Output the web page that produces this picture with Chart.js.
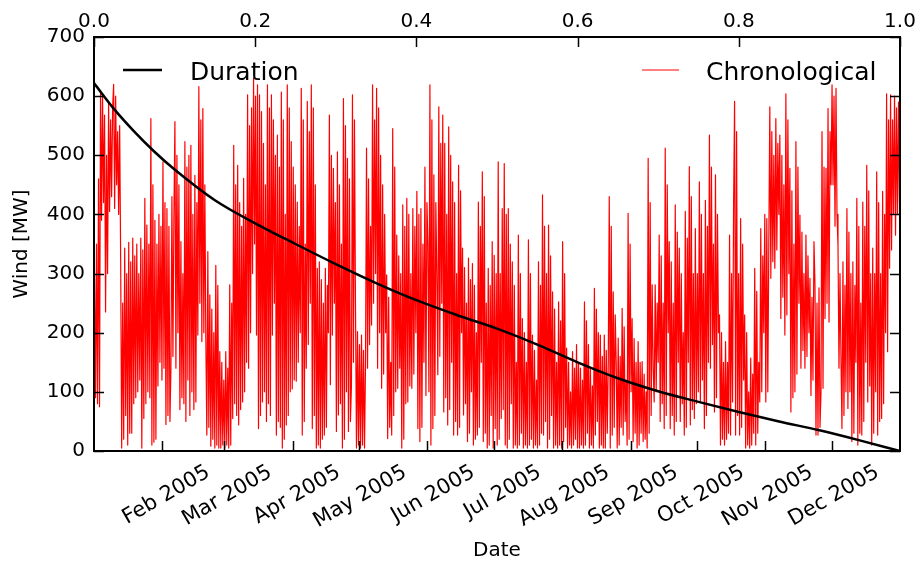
<!DOCTYPE html>
<html>
<head>
<meta charset="utf-8">
<script src="https://cdn.jsdelivr.net/npm/chart.js@4.4.1/dist/chart.umd.min.js"></script>
<style>
    html, body { margin: 0; padding: 0; background: #fff; }
    canvas { display: block; }
</style>
</head>
<body>
<canvas id="wind" width="922" height="563"></canvas>
<script>
// axis labels / ticks
const monthDays = [31, 28, 31, 30, 31, 30, 31, 31, 30, 31, 30, 31];
const monthLabels = ["Feb 2005", "Mar 2005", "Apr 2005", "May 2005", "Jun 2005", "Jul 2005",
    "Aug 2005", "Sep 2005", "Oct 2005", "Nov 2005", "Dec 2005"];

// duration curve (fraction of time vs MW)
const durationFrac = [0, 0.025, 0.05, 0.075, 0.1, 0.15, 0.2, 0.25, 0.3, 0.35, 0.4, 0.45,
    0.5, 0.55, 0.6, 0.65, 0.7, 0.75, 0.8, 0.85, 0.9, 0.95, 1.0];
const durationMW = [622, 578, 540, 506, 476, 424, 385, 350, 316, 284, 255, 230,
    207, 180, 150, 123, 101, 83, 66, 50, 35, 18, 0];

// chronological wind output per month (MW), samples spread evenly over each month
const windJan = [300, 90, 350, 80, 460, 75, 610, 390, 600, 420, 568, 235, 500, 300, 590, 405, 560, 430,
    580, 620, 410, 600, 450, 540, 400, 550, 320, 5, 250, 20, 343, 60, 300, 10, 353, 30, 320, 30, 360, 80,
    330, 90, 350, 100, 300, 120, 360, 5, 340, 55, 427, 80, 382, 100, 350, 90, 562, 10, 450, 15, 390, 20,
    350, 110, 400, 150, 380, 120];
const windFeb = [489, 140, 420, 45, 410, 60, 380, 50, 140, 430, 160, 400, 557, 140, 500, 200, 450, 70,
    354, 90, 300, 80, 523, 50, 480, 120, 500, 60, 517, 100, 400, 70, 466, 83, 420, 196, 616, 250, 560,
    185, 579, 200, 450, 190, 27, 337, 40, 264, 8, 240, 20, 200, 5, 314, 10, 280, 5, 168, 5, 150, 10, 120];
const windMar = [5, 168, 10, 140, 5, 281, 10, 250, 55, 517, 80, 450, 60, 483, 44, 420, 70, 380, 83, 461,
    100, 400, 150, 602, 140, 550, 200, 580, 300, 630, 350, 600, 196, 619, 38, 602, 60, 574, 83, 520, 100,
    450, 50, 619, 80, 580, 60, 602, 196, 560, 250, 500, 27, 534, 50, 480, 40, 607, 5, 560, 20, 400, 44,
    619, 60, 580, 100, 523, 105];
const windApr = [480, 120, 450, 118, 421, 150, 380, 200, 613, 27, 560, 50, 350, 140, 591, 180, 540, 250,
    619, 38, 580, 60, 450, 5, 309, 10, 320, 5, 290, 20, 250, 27, 309, 40, 280, 200, 568, 112, 500, 196,
    478, 250, 420, 33, 506, 61, 450, 80, 350, 5, 596, 20, 550, 100, 495, 33, 460, 50, 112, 602, 150, 560,
    250, 5, 202, 10];
const windMay = [180, 5, 196, 10, 170, 5, 150, 512, 140, 460, 180, 380, 213, 619, 250, 560, 300, 613, 140,
    580, 200, 500, 106, 450, 130, 400, 200, 298, 21, 260, 40, 150, 27, 545, 60, 480, 100, 365, 106, 330,
    140, 300, 5, 416, 20, 380, 80, 427, 83, 400, 110, 300, 106, 410, 130, 380, 200, 439, 38, 400, 16, 410,
    40, 350, 150, 480, 94, 420];
const windJun = [350, 100, 619, 10, 560, 38, 467, 60, 420, 300, 129, 582, 160, 520, 250, 568, 66, 520, 90,
    400, 44, 548, 70, 500, 150, 455, 27, 420, 50, 300, 27, 483, 40, 440, 200, 343, 61, 310, 80, 250, 16,
    326, 30, 290, 100, 317, 10, 280, 20, 200, 27, 421, 40, 380, 150, 472, 16, 430, 30, 250, 5, 309, 10,
    280, 60, 354, 5];
const windJul = [331, 38, 300, 10, 489, 20, 300, 55, 410, 70, 486, 10, 400, 5, 410, 20, 350, 80, 320, 5,
    280, 10, 150, 5, 365, 10, 300, 30, 224, 5, 200, 10, 150, 5, 357, 10, 300, 20, 196, 5, 170, 10, 120, 5,
    320, 10, 280, 30, 433, 27, 380, 50, 300, 5, 382, 20, 330, 60, 269, 5, 240, 10, 150, 5, 252, 10, 220, 5];
const windAug = [354, 16, 300, 40, 174, 5, 150, 10, 100, 5, 168, 10, 140, 20, 180, 5, 150, 5, 140, 10, 120,
    5, 252, 10, 220, 30, 180, 5, 140, 10, 110, 5, 275, 27, 240, 50, 200, 5, 196, 10, 160, 5, 196, 5, 170,
    30, 150, 430, 5, 380, 27, 269, 40, 230, 150, 5, 191, 10, 160, 40, 241, 27, 210, 50, 120, 10, 402, 20, 350];
const windSep = [100, 224, 16, 190, 30, 150, 5, 185, 10, 150, 30, 151, 16, 130, 20, 100, 5, 495, 30, 420,
    60, 281, 140, 83, 281, 100, 250, 150, 365, 50, 330, 80, 250, 38, 512, 60, 450, 200, 354, 38, 320, 60,
    250, 27, 416, 50, 370, 150, 343, 50, 300, 80, 200, 27, 405, 40, 360, 150, 481, 44, 430, 70, 300, 55,
    376, 80];
const windOct = [300, 100, 455, 83, 400, 120, 300, 38, 424, 60, 380, 150, 534, 140, 480, 180, 350, 66, 467,
    90, 400, 200, 230, 10, 200, 20, 150, 10, 185, 20, 150, 30, 365, 27, 300, 83, 416, 591, 27, 540, 60, 300,
    27, 393, 40, 350, 120, 230, 5, 200, 10, 100, 5, 157, 10, 130, 30, 309, 10, 270, 30, 150, 83, 376, 100,
    330, 200, 400];
const windNov = [83, 393, 100, 350, 582, 292, 540, 320, 500, 309, 562, 340, 520, 400, 534, 224, 500, 260,
    450, 196, 604, 230, 560, 300, 478, 66, 440, 90, 350, 100, 523, 130, 480, 250, 399, 140, 370, 170, 300,
    140, 365, 160, 330, 200, 292, 94, 260, 120, 354, 281, 27, 250, 27, 276, 40, 100, 540, 106, 480, 224,
    478, 250, 579, 218, 540, 450];
const windDec = [619, 450, 600, 380, 613, 400, 348, 140, 300, 160, 38, 320, 60, 280, 100, 410, 72, 370,
    100, 300, 16, 320, 30, 280, 150, 427, 10, 380, 30, 250, 27, 421, 50, 380, 150, 483, 83, 440, 110, 300,
    10, 343, 30, 300, 100, 472, 27, 420, 50, 300, 55, 439, 80, 400, 200, 604, 168, 560, 309, 602, 340, 560,
    400, 600, 365, 580, 400, 590, 420];

const windByMonth = [windJan, windFeb, windMar, windApr, windMay, windJun,
    windJul, windAug, windSep, windOct, windNov, windDec];

// hour of year at the start of each month
const monthStarts = [];
let hour = 0;
monthDays.forEach((d) => {
    monthStarts.push(hour);
    hour += d * 24;
});
const yearHours = hour;

const chrono = [];
windByMonth.forEach((vals, m) => {
    const len = monthDays[m] * 24;
    vals.forEach((v, i) => {
        chrono.push({ x: monthStarts[m] + ((i + 0.5) * len) / vals.length, y: v });
    });
});

const duration = durationFrac.map((f, i) => ({ x: f, y: durationMW[i] }));

Chart.defaults.font.family = "'DejaVu Sans', sans-serif";
Chart.defaults.color = "#000";

// matplotlib-ish frame, inward ticks and legend
const frameTicks = {
    id: "frameTicks",
    afterDraw(chart) {
        const { ctx, chartArea: a, scales } = chart;
        const len = 10;
        ctx.save();
        ctx.strokeStyle = "#000";
        ctx.lineWidth = 1.5;
        ctx.beginPath();
        scales.y.ticks.forEach((t) => {
            const py = Math.round(scales.y.getPixelForValue(t.value)) + 0.5;
            ctx.moveTo(a.left, py);
            ctx.lineTo(a.left + len, py);
            ctx.moveTo(a.right, py);
            ctx.lineTo(a.right - len, py);
        });
        scales.x.ticks.forEach((t) => {
            const px = Math.round(scales.x.getPixelForValue(t.value)) + 0.5;
            ctx.moveTo(px, a.bottom);
            ctx.lineTo(px, a.bottom - len);
        });
        scales.x2.ticks.forEach((t) => {
            const px = Math.round(scales.x2.getPixelForValue(t.value)) + 0.5;
            ctx.moveTo(px, a.top);
            ctx.lineTo(px, a.top + len);
        });
        ctx.stroke();
        ctx.lineWidth = 2;
        ctx.strokeRect(a.left, a.top, a.right - a.left, a.bottom - a.top);

        // legend
        const ds = chart.data.datasets;
        ctx.font = "25px 'DejaVu Sans'";
        ctx.fillStyle = "#000";
        ctx.textBaseline = "alphabetic";
        const ly = a.top + 33;

        ctx.strokeStyle = ds[0].borderColor;
        ctx.lineWidth = 2.5;
        ctx.beginPath();
        ctx.moveTo(a.left + 29, ly);
        ctx.lineTo(a.left + 68, ly);
        ctx.stroke();
        ctx.fillText(ds[0].label, a.left + 96, ly + 10);

        ctx.strokeStyle = ds[1].borderColor;
        ctx.lineWidth = 1;
        ctx.beginPath();
        ctx.moveTo(a.right - 258, ly);
        ctx.lineTo(a.right - 221, ly);
        ctx.stroke();
        ctx.fillText(ds[1].label, a.right - 194, ly + 10);
        ctx.restore();
    },
};

new Chart(document.getElementById("wind"), {
    type: "line",
    data: {
        datasets: [
            {
                label: "Duration",
                data: duration,
                xAxisID: "x2",
                yAxisID: "y",
                borderColor: "#000000",
                borderWidth: 2.5,
                pointRadius: 0,
                cubicInterpolationMode: "monotone",
            },
            {
                label: "Chronological",
                data: chrono,
                xAxisID: "x",
                yAxisID: "y",
                borderColor: "#ff0000",
                borderWidth: 1.2,
                borderJoinStyle: "round",
                pointRadius: 0,
            },
        ],
    },
    options: {
        responsive: false,
        animation: false,
        devicePixelRatio: 1,
        layout: { padding: { left: 0, right: 22, top: 0, bottom: 0 } },
        plugins: {
            legend: { display: false },
            tooltip: { enabled: false },
        },
        scales: {
            x: {
                type: "linear",
                position: "bottom",
                min: 0,
                max: yearHours,
                grid: { display: false, drawTicks: false },
                border: { display: false },
                afterBuildTicks: (scale) => {
                    scale.ticks = monthStarts.slice(1).map((v) => ({ value: v }));
                },
                afterFit: (scale) => {
                    scale.height = 112;
                },
                ticks: {
                    autoSkip: false,
                    maxRotation: 30,
                    minRotation: 30,
                    labelOffset: 46,
                    padding: 9,
                    font: { size: 21 },
                    callback: (v, i) => monthLabels[i],
                },
                title: {
                    display: true,
                    text: "Date",
                    font: { size: 20 },
                    padding: { top: 0, bottom: 0 },
                },
            },
            x2: {
                type: "linear",
                position: "top",
                min: 0,
                max: 1,
                grid: { display: false, drawTicks: false },
                border: { display: false },
                afterFit: (scale) => {
                    scale.height = 37;
                },
                ticks: {
                    stepSize: 0.2,
                    padding: 3,
                    maxRotation: 0,
                    font: { size: 20 },
                    callback: (v) => v.toFixed(1),
                },
            },
            y: {
                min: 0,
                max: 700,
                grid: { display: false, drawTicks: false },
                border: { display: false },
                afterFit: (scale) => {
                    scale.width = 94;
                },
                ticks: {
                    stepSize: 100,
                    padding: 9,
                    font: { size: 20 },
                },
                title: {
                    display: true,
                    text: "Wind [MW]",
                    font: { size: 20 },
                    padding: { top: 10, bottom: 0 },
                },
            },
        },
    },
    plugins: [frameTicks],
});
</script>
</body>
</html>
